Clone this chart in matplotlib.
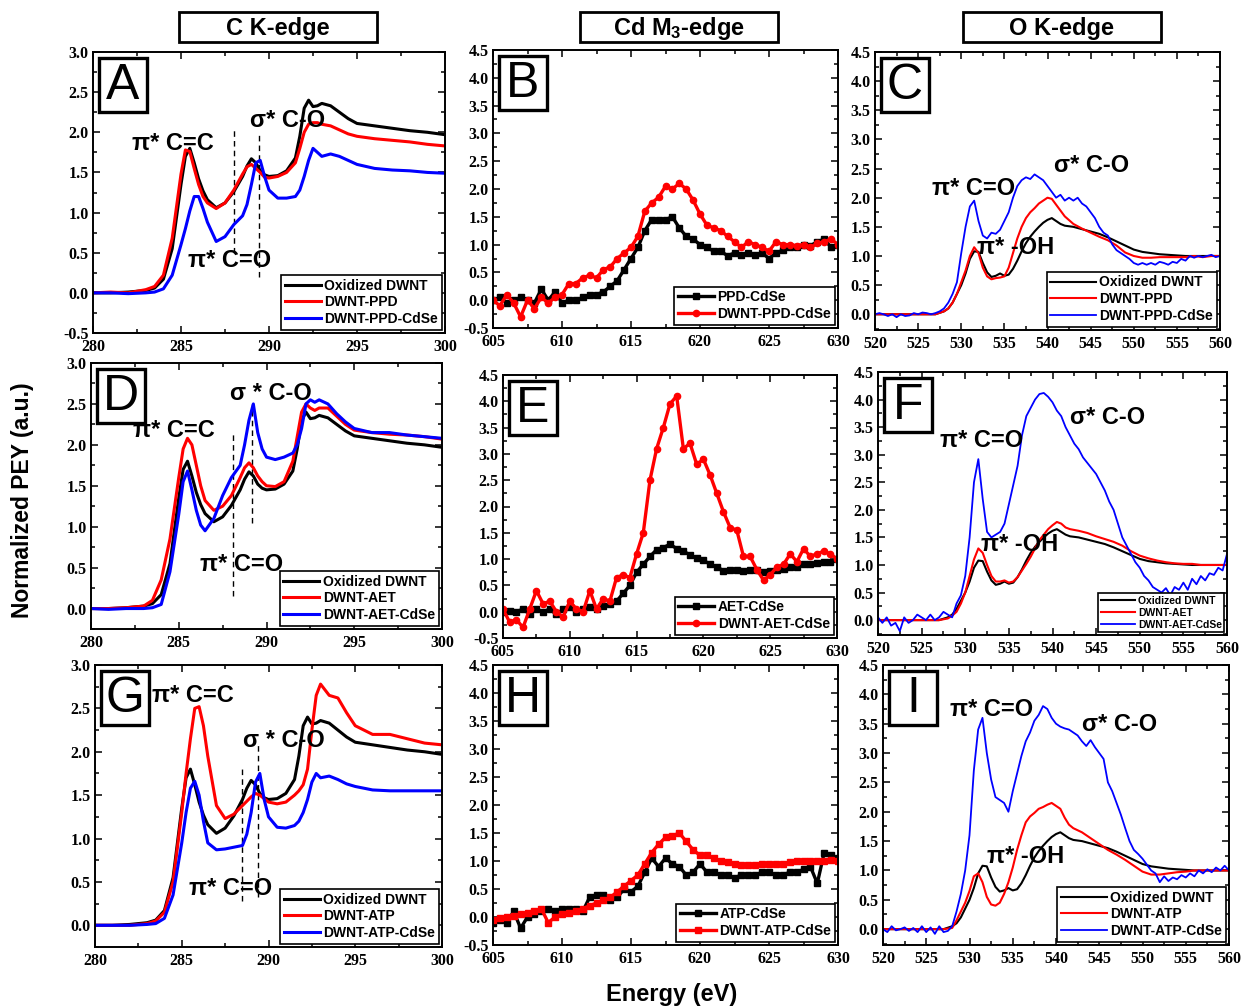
import numpy as np
import matplotlib
matplotlib.use('Agg')
import matplotlib.pyplot as plt
from matplotlib.patches import Rectangle
from matplotlib.ticker import MultipleLocator, FormatStrFormatter

plt.rcParams['font.family'] = ['Liberation Sans', 'DejaVu Sans']
plt.rcParams['font.weight'] = 'bold'
plt.rcParams['mathtext.fontset'] = 'custom'
plt.rcParams['mathtext.rm'] = 'Liberation Sans:bold'
plt.rcParams['mathtext.bf'] = 'Liberation Sans:bold'
plt.rcParams['mathtext.it'] = 'Liberation Sans:bold'

# ---------------- C K-edge (eV, normalized PEY) ----------------
E_C = [280, 281, 282, 283, 283.5, 284, 284.5, 285, 285.25, 285.5, 285.75, 286,
       286.25, 286.5, 287, 287.5, 288, 288.5, 288.75, 289, 289.25, 289.5, 289.75,
       290, 290.5, 291, 291.5, 291.75, 292, 292.25, 292.5, 292.75, 293, 293.5,
       294, 294.5, 295, 296, 297, 298, 299, 300]
ox_C = [0.0, 0.0, 0.01, 0.03, 0.06, 0.17, 0.55, 1.35, 1.7, 1.8,
        1.62, 1.42, 1.27, 1.16, 1.06, 1.12, 1.26, 1.45, 1.58, 1.67,
        1.62, 1.52, 1.47, 1.45, 1.46, 1.52, 1.68, 1.95, 2.3, 2.4,
        2.32, 2.33, 2.36, 2.33, 2.25, 2.17, 2.11, 2.08, 2.05, 2.02,
        2.0, 1.97]
ppd_C = [0.0, 0.01, 0.0, 0.04, 0.08, 0.22, 0.68, 1.48, 1.78, 1.76,
         1.55, 1.35, 1.2, 1.12, 1.05, 1.12, 1.28, 1.48, 1.57, 1.6,
         1.55, 1.5, 1.44, 1.43, 1.45, 1.5, 1.62, 1.8, 2.0, 2.1,
         2.12, 2.12, 2.1, 2.08, 2.03, 1.98, 1.95, 1.92, 1.9, 1.88,
         1.85, 1.83]
ppd_cdse_C = [0.0, 0.0, -0.01, 0.0, 0.01, 0.05, 0.22, 0.6, 0.8, 1.02,
              1.2, 1.2, 1.05, 0.88, 0.64, 0.7, 0.85, 0.96, 1.1, 1.35,
              1.62, 1.65, 1.45, 1.28, 1.18, 1.18, 1.2, 1.28, 1.45, 1.65,
              1.8, 1.75, 1.7, 1.73, 1.7, 1.65, 1.6, 1.55, 1.53, 1.52,
              1.5, 1.49]
aet_C = [0.0, 0.0, 0.01, 0.03, 0.1, 0.35, 0.85, 1.6, 1.95, 2.08,
         2.0, 1.75, 1.5, 1.32, 1.2, 1.25, 1.38, 1.6, 1.72, 1.78,
         1.72, 1.62, 1.55, 1.5, 1.49, 1.55, 1.8, 2.1, 2.4, 2.5,
         2.45, 2.42, 2.45, 2.45, 2.35, 2.25, 2.18, 2.15, 2.13, 2.12,
         2.1, 2.07]
aet_cdse_C = [0.0, -0.01, 0.0, 0.0, 0.01, 0.05, 0.45, 1.15, 1.55, 1.68,
              1.45, 1.2, 1.02, 0.95, 1.1, 1.38, 1.6, 1.75, 2.0, 2.3,
              2.5, 2.15, 1.95, 1.85, 1.82, 1.85, 1.9, 2.0, 2.2, 2.5,
              2.55, 2.52, 2.55, 2.5, 2.38, 2.28, 2.2, 2.15, 2.15, 2.12,
              2.1, 2.08]
atp_C = [0.0, 0.0, 0.0, 0.02, 0.05, 0.15, 0.5, 1.3, 1.75, 2.15,
         2.5, 2.52, 2.3, 1.95, 1.38, 1.23, 1.28, 1.38, 1.43, 1.48,
         1.52, 1.5, 1.46, 1.42, 1.4, 1.42, 1.5, 1.55, 1.62, 1.8,
         2.25, 2.65, 2.78, 2.65, 2.62, 2.45, 2.3, 2.2, 2.2, 2.15,
         2.1, 2.08]
atp_cdse_C = [0.0, 0.0, 0.0, 0.01, 0.02, 0.08, 0.35, 0.95, 1.3, 1.58,
              1.66, 1.5, 1.2, 0.95, 0.87, 0.88, 0.9, 0.92, 1.05, 1.3,
              1.65, 1.75, 1.45, 1.25, 1.13, 1.12, 1.15, 1.2, 1.3, 1.45,
              1.65, 1.75, 1.7, 1.72, 1.68, 1.63, 1.6, 1.56, 1.55, 1.55,
              1.55, 1.55]

# ---------------- Cd M3-edge ----------------
E_Cd = np.arange(605, 630.5, 0.5)
ppd_cdse_Cd = [0.0, 0.05, -0.05, 0.0, 0.05, 0.0, -0.05, 0.2, 0.0, 0.15,
               -0.05, 0.0, 0.0, 0.05, 0.1, 0.1, 0.15, 0.25, 0.35, 0.55,
               0.75, 0.95, 1.25, 1.45, 1.45, 1.45, 1.5, 1.3, 1.15, 1.1,
               1.0, 0.95, 0.88, 0.88, 0.8, 0.85, 0.82, 0.85, 0.82, 0.85,
               0.75, 0.85, 0.9, 0.95, 0.95, 1.0, 0.98, 1.05, 1.1, 0.95,
               1.0]
dwnt_ppd_cdse_Cd = [0.0, -0.1, 0.1, -0.05, -0.3, 0.0, -0.15, 0.05, -0.05, 0.05,
                    0.1, 0.3, 0.3, 0.4, 0.45, 0.4, 0.55, 0.6, 0.75, 0.85,
                    0.95, 1.15, 1.6, 1.75, 1.85, 2.05, 2.0, 2.1, 2.0, 1.8,
                    1.55, 1.35, 1.3, 1.25, 1.15, 1.05, 0.95, 1.05, 1.0, 0.95,
                    0.88, 1.05, 1.0, 1.0, 0.98, 1.0, 0.95, 1.02, 1.05, 1.1,
                    1.0]
aet_cdse_Cd = [0.0, 0.02, 0.0, 0.05, -0.05, 0.05, 0.0, 0.05, -0.05, 0.05,
               0.08, 0.0, 0.05, 0.08, 0.05, 0.1, 0.15, 0.2, 0.35, 0.5,
               0.75, 0.9, 1.05, 1.18, 1.22, 1.28, 1.2, 1.15, 1.08, 1.02,
               0.98, 0.9, 0.85, 0.78, 0.8, 0.8, 0.78, 0.8, 0.8, 0.75,
               0.78, 0.8, 0.82, 0.85, 0.85, 0.9, 0.9, 0.92, 0.95, 0.95,
               1.0]
dwnt_aet_cdse_Cd = [0.05, -0.2, -0.15, -0.3, 0.05, 0.4, 0.15, 0.2, 0.0, -0.1,
                    0.2, 0.05, 0.0, 0.4, 0.05, 0.25, 0.2, 0.65, 0.7, 0.65,
                    1.1, 1.5, 2.5, 3.1, 3.5, 3.95, 4.1, 3.1, 3.2, 2.8,
                    2.9, 2.6, 2.25, 1.9, 1.6, 1.55, 1.05, 1.05, 0.8, 0.6,
                    0.7, 0.85, 0.9, 1.1, 0.95, 1.2, 1.05, 1.1, 1.15, 1.1,
                    1.0]
atp_cdse_Cd = [-0.1, -0.05, -0.1, 0.1, -0.2, 0.0, 0.05, 0.1, 0.15, 0.1,
               0.15, 0.15, 0.15, 0.1, 0.35, 0.4, 0.4, 0.3, 0.35, 0.5,
               0.45, 0.55, 0.8, 1.05, 0.9, 1.05, 0.95, 0.9, 0.75, 0.8,
               0.95, 0.8, 0.8, 0.75, 0.75, 0.7, 0.75, 0.75, 0.75, 0.8,
               0.8, 0.75, 0.75, 0.8, 0.8, 0.85, 0.9, 0.6, 1.15, 1.1,
               1.05]
dwnt_atp_cdse_Cd = [-0.05, -0.02, 0.0, 0.02, 0.05, 0.07, 0.1, 0.15, -0.1, 0.0,
                    0.05, 0.08, 0.1, 0.15, 0.2, 0.25, 0.3, 0.35, 0.45, 0.55,
                    0.65, 0.75, 0.95, 1.15, 1.3, 1.42, 1.45, 1.5, 1.35, 1.2,
                    1.1, 1.1, 1.05, 1.0, 0.98, 0.95, 0.93, 0.93, 0.93, 0.95,
                    0.95, 0.95, 0.95, 0.98, 1.0, 1.0, 1.0, 1.0, 1.0, 1.02,
                    1.0]

# ---------------- O K-edge ----------------
E_O = [520, 524, 527, 528, 528.5, 529, 529.5, 530, 530.5, 531, 531.5, 532,
       532.5, 533, 533.5, 534, 534.5, 535, 535.5, 536, 536.5, 537, 537.5, 538,
       538.5, 539, 539.5, 540, 540.5, 541, 541.5, 542, 543, 544, 545, 546, 547,
       548, 549, 550, 551, 552, 553, 554, 555, 556, 557, 558, 559, 560]
E_O_fine = np.arange(520, 560.5, 0.5)
ox_O = [0.0, 0.0, 0.0, 0.05, 0.1, 0.2, 0.35, 0.5, 0.7, 0.95,
        1.08, 1.07, 0.88, 0.72, 0.64, 0.66, 0.7, 0.66, 0.68, 0.78,
        0.92, 1.08, 1.22, 1.33, 1.42, 1.5, 1.57, 1.62, 1.65, 1.6,
        1.55, 1.52, 1.5, 1.46, 1.42, 1.38, 1.32, 1.25, 1.18, 1.11,
        1.07, 1.05, 1.03, 1.02, 1.01, 1.0, 1.0, 1.0, 1.0, 1.0]
ppd_O = [0.0, 0.0, 0.0, 0.05, 0.1, 0.2, 0.35, 0.55, 0.75, 1.0,
         1.15, 1.05, 0.8, 0.65, 0.6, 0.62, 0.63, 0.65, 0.8, 1.05,
         1.3, 1.5, 1.65, 1.75, 1.82, 1.9, 1.95, 2.0, 1.98, 1.88,
         1.78, 1.68, 1.55, 1.47, 1.4, 1.33, 1.27, 1.18, 1.06, 1.0,
         0.97, 0.97, 0.98, 0.98, 0.98, 0.98, 1.0, 0.98, 1.0, 1.0]
aet_O = [0.0, 0.0, 0.0, 0.03, 0.08, 0.15, 0.3, 0.5, 0.8, 1.1,
         1.3, 1.22, 1.0, 0.8, 0.7, 0.7, 0.72, 0.68, 0.7, 0.78,
         0.9, 1.02, 1.15, 1.3, 1.45, 1.55, 1.65, 1.72, 1.78, 1.75,
         1.68, 1.65, 1.62, 1.58, 1.52, 1.47, 1.42, 1.35, 1.25, 1.17,
         1.12, 1.08, 1.05, 1.03, 1.02, 1.02, 1.0, 1.0, 1.0, 1.0]
atp_O = [0.0, 0.0, 0.0, 0.02, 0.15, 0.3, 0.45, 0.65, 0.9, 0.95,
         0.8, 0.55, 0.42, 0.4, 0.45, 0.6, 0.8, 1.05, 1.35, 1.6,
         1.82, 1.92, 1.98, 2.05, 2.08, 2.12, 2.15, 2.1, 2.05, 1.9,
         1.78, 1.72, 1.65, 1.55, 1.45, 1.35, 1.27, 1.18, 1.08, 0.98,
         0.93, 0.93, 0.95, 0.97, 0.98, 1.0, 1.0, 1.0, 1.0, 1.0]
ppd_cdse_O = [0.0, 0.02, 0.0, -0.03, 0.0, -0.05, 0.0, -0.03, -0.02, 0.02,
              0.0, 0.03, 0.02, 0.0, 0.02, 0.05, 0.1, 0.2, 0.35, 0.55,
              1.05, 1.5, 1.85, 1.95, 1.6, 1.35, 1.3, 1.4, 1.38, 1.45,
              1.6, 1.75, 2.0, 2.2, 2.3, 2.35, 2.32, 2.4, 2.35, 2.3,
              2.2, 2.1, 2.0, 2.05, 1.95, 2.0, 1.95, 2.0, 1.9, 1.85,
              1.75, 1.65, 1.5, 1.4, 1.35, 1.2, 1.1, 1.05, 1.0, 0.95,
              0.88, 0.85, 0.88, 0.85, 0.88, 0.85, 0.9, 0.88, 0.85, 0.9,
              0.88, 0.95, 0.92, 1.0, 0.97, 1.0, 0.98, 1.0, 1.02, 0.98,
              1.0]
aet_cdse_O = [0.05, -0.05, 0.05, -0.1, -0.05, -0.2, 0.05, -0.05, 0.0, 0.1,
              0.05, 0.0, 0.1, 0.0, 0.05, 0.15, 0.1, 0.05, 0.3, 0.45,
              0.8, 1.5, 2.5, 2.92, 2.2, 1.6, 1.5, 1.55, 1.6, 1.75,
              2.1, 2.45, 2.8, 3.35, 3.7, 3.85, 4.0, 4.1, 4.12, 4.05,
              3.95, 3.8, 3.7, 3.5, 3.35, 3.2, 3.1, 2.95, 2.85, 2.75,
              2.65, 2.5, 2.35, 2.15, 2.0, 1.75, 1.5, 1.35, 1.2, 1.05,
              0.95, 0.8, 0.72, 0.6, 0.55, 0.5, 0.58, 0.45, 0.6, 0.55,
              0.68, 0.55, 0.75, 0.65, 0.8, 0.72, 0.85, 0.82, 0.95, 0.9,
              1.2]
atp_cdse_O = [0.0, -0.05, 0.05, -0.02, 0.0, 0.03, -0.03, 0.02, -0.05, 0.05,
              -0.05, 0.03, -0.08, 0.05, -0.05, -0.03, 0.05, 0.3, 0.6, 1.0,
              1.6, 2.7, 3.4, 3.6, 3.0, 2.55, 2.25, 2.2, 2.15, 2.0,
              2.35, 2.65, 2.95, 3.2, 3.35, 3.55, 3.65, 3.8, 3.75, 3.6,
              3.5, 3.45, 3.42, 3.4, 3.35, 3.3, 3.2, 3.12, 3.22, 3.1,
              3.0, 2.9, 2.5, 2.35, 2.15, 1.95, 1.72, 1.5, 1.35, 1.28,
              1.2, 1.1, 1.0, 0.95, 0.8, 0.9, 0.82, 0.88, 0.85, 0.92,
              0.88, 0.95, 0.9, 1.0, 0.95, 1.02, 0.97, 1.05, 1.0, 1.08,
              1.0]

# dashed guide lines in the C K-edge panels: (energy, y from, y to)
guides_A = [(288.0, 0.5, 2.05), (289.45, 0.2, 1.98)]
guides_D = [(288.1, 0.15, 2.15), (289.2, 1.05, 2.5)]
guides_G = [(288.5, 0.28, 1.85), (289.4, 0.33, 2.08)]

W, H = 1242, 1007
fig = plt.figure(figsize=(W / 100, H / 100), dpi=100)


def add_ax(l, t, r, b):
    return fig.add_axes([l / W, 1 - b / H, (r - l) / W, (b - t) / H])


def style(ax, xlim, ylim, xmaj, ymaj=0.5):
    ax.set_xlim(*xlim)
    ax.set_ylim(*ylim)
    ax.xaxis.set_major_locator(MultipleLocator(xmaj))
    ax.xaxis.set_minor_locator(MultipleLocator(xmaj / 2))
    ax.yaxis.set_major_locator(MultipleLocator(ymaj))
    ax.yaxis.set_minor_locator(MultipleLocator(ymaj / 2))
    ax.yaxis.set_major_formatter(FormatStrFormatter('%.1f'))
    ax.tick_params(which='both', direction='in', top=True, right=True,
                   width=1.1, labelsize=11.5, labelfontfamily='Liberation Serif')
    ax.tick_params(axis='x', pad=4)
    ax.tick_params(axis='y', pad=3)
    ax.tick_params(which='major', length=5)
    ax.tick_params(which='minor', length=3)
    for s in ax.spines.values():
        s.set_linewidth(1.4)


def letter(ax, text):
    bb = ax.get_position()
    x0 = bb.x0 + 6 / W
    y1 = bb.y1 - 6 / H
    fig.add_artist(Rectangle((x0, y1 - 54 / H), 48 / W, 54 / H,
                             transform=fig.transFigure, fc='white',
                             ec='black', lw=2.4, zorder=5))
    fig.text(x0 + 24 / W, y1 - 28 / H, text, ha='center', va='center',
             fontsize=36, fontweight='normal', zorder=6)


def legend(ax, size=10, hl=2.6):
    leg = ax.legend(loc='lower right', prop={'weight': 'bold', 'size': size},
                    fancybox=False, edgecolor='black', framealpha=1,
                    borderaxespad=0.25, handlelength=hl, handletextpad=0.25,
                    labelspacing=0.2, borderpad=0.25)
    leg.get_frame().set_linewidth(1.2)


def note(ax, x, y, s, size=17):
    ax.text(x, y, s, ha='left', va='center', fontsize=size, fontweight='bold')


def guides(ax, lines):
    for x, y0, y1 in lines:
        ax.plot([x, x], [y0, y1], color='black', lw=1.0, dashes=(4, 3))


# ---- C K-edge column ----
c_panels = [
    ((93, 52, 445, 333), (-0.5, 3.0), 'A', ppd_C, ppd_cdse_C, 'DWNT-PPD', 'DWNT-PPD-CdSe', guides_A,
     [(282.2, 1.86, 'π* C=C'), (288.9, 2.15, 'σ* C-O'), (285.4, 0.4, 'π* C=O')]),
    ((91, 363, 442, 629), (-0.25, 3.0), 'D', aet_C, aet_cdse_C, 'DWNT-AET', 'DWNT-AET-CdSe', guides_D,
     [(282.4, 2.17, 'π* C=C'), (287.9, 2.63, 'σ * C-O'), (286.2, 0.54, 'π* C=O')]),
    ((95, 665, 442, 947), (-0.25, 3.0), 'G', atp_C, atp_cdse_C, 'DWNT-ATP', 'DWNT-ATP-CdSe', guides_G,
     [(283.3, 2.65, 'π* C=C'), (288.55, 2.13, 'σ * C-O'), (285.4, 0.42, 'π* C=O')]),
]
for box, ylim, lab, red, blue, rlab, blab, gl, notes in c_panels:
    ax = add_ax(*box)
    style(ax, (280, 300), ylim, 5)
    guides(ax, gl)
    ax.plot(E_C, ox_C, color='black', lw=2.2, label='Oxidized DWNT')
    ax.plot(E_C, red, color='red', lw=2.2, label=rlab)
    ax.plot(E_C, blue, color='blue', lw=2.2, label=blab)
    for x, y, s in notes:
        note(ax, x, y, s)
    legend(ax, 10, 2.6)
    letter(ax, lab)

# ---- Cd M3-edge column ----
cd_panels = [
    ((493, 50, 838, 328), 'B', ppd_cdse_Cd, dwnt_ppd_cdse_Cd, 'PPD-CdSe', 'DWNT-PPD-CdSe', 'o'),
    ((503, 375, 837, 638), 'E', aet_cdse_Cd, dwnt_aet_cdse_Cd, 'AET-CdSe', 'DWNT-AET-CdSe', 'o'),
    ((493, 665, 838, 945), 'H', atp_cdse_Cd, dwnt_atp_cdse_Cd, 'ATP-CdSe', 'DWNT-ATP-CdSe', 's'),
]
for box, lab, blk, red, klab, rlab, rm in cd_panels:
    ax = add_ax(*box)
    style(ax, (605, 630), (-0.5, 4.5), 5)
    ax.plot(E_Cd, blk, color='black', lw=2.4, marker='s', ms=4.5, label=klab)
    ax.plot(E_Cd, red, color='red', lw=2.4, marker=rm, ms=4.5, label=rlab)
    legend(ax, 10, 2.6)
    letter(ax, lab)

# ---- O K-edge column ----
o_panels = [
    ((875, 52, 1220, 330), 'C', ppd_O, ppd_cdse_O, 'DWNT-PPD', 'DWNT-PPD-CdSe', 10,
     [(526.6, 2.16, 'π* C=O'), (540.8, 2.56, 'σ* C-O'), (531.8, 1.14, 'π* -OH')]),
    ((878, 372, 1227, 635), 'F', aet_O, aet_cdse_O, 'DWNT-AET', 'DWNT-AET-CdSe', 7.5,
     [(527.1, 3.26, 'π* C=O'), (542.0, 3.68, 'σ* C-O'), (531.8, 1.38, 'π* -OH')]),
    ((883, 665, 1229, 945), 'I', atp_O, atp_cdse_O, 'DWNT-ATP', 'DWNT-ATP-CdSe', 10,
     [(527.8, 3.74, 'π* C=O'), (543.0, 3.48, 'σ* C-O'), (532.0, 1.24, 'π* -OH')]),
]
for box, lab, red, blue, rlab, blab, lsize, notes in o_panels:
    ax = add_ax(*box)
    style(ax, (520, 560), (-0.27, 4.5), 5)
    ax.plot(E_O, ox_O, color='black', lw=1.5, label='Oxidized DWNT')
    ax.plot(E_O, red, color='red', lw=1.5, label=rlab)
    ax.plot(E_O_fine, blue, color='blue', lw=1.3, label=blab)
    for x, y, s in notes:
        note(ax, x, y, s)
    legend(ax, lsize, 3.3)
    letter(ax, lab)

# column headers
for cx, title in [(277.5, 'C K-edge'), (678.5, r'Cd M$_\mathbf{3}$-edge'), (1061.5, 'O K-edge')]:
    fig.add_artist(Rectangle(((cx - 99) / W, 1 - 42 / H), 198 / W, 30 / H,
                             transform=fig.transFigure, fc='white', ec='black', lw=2.0))
    fig.text(cx / W, 1 - 28 / H, title, ha='center', va='center', fontsize=17,
             fontweight='bold')

fig.text(23 / W, 1 - 500 / H, 'Normalized PEY (a.u.)', rotation=90, ha='center',
         va='center', fontsize=16.5, fontweight='bold')
fig.text(672 / W, 1 - 995 / H, 'Energy (eV)', ha='center', va='center',
         fontsize=17, fontweight='bold')

fig.savefig('out.png', dpi=100)
